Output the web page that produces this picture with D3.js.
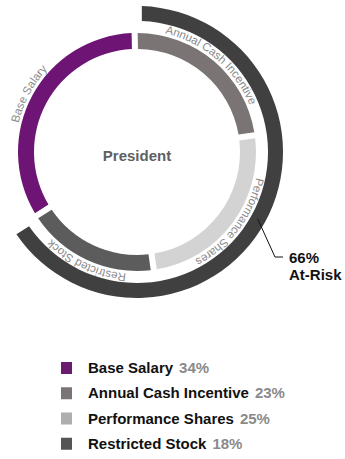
<!DOCTYPE html>
<html>
<head>
<meta charset="utf-8">
<script src="https://cdn.jsdelivr.net/npm/d3@7"></script>
<style>
  body { margin: 0; background: #fff; }
  svg { display: block; font-family: "Liberation Sans", Arial, sans-serif; }
</style>
</head>
<body>
<div id="chart"></div>
<script>
// data
var categories = ["Base Salary", "Annual Cash Incentive", "Performance Shares", "Restricted Stock"];
var values = [34, 23, 25, 18];
var ringColors = ["#6d1475", "#7a7475", "#d3d3d3", "#5c5c5c"];
var legendColors = ["#6b1a72", "#7a7475", "#aeaeae", "#555555"];
var centerLabel = "President";
var atRiskValue = 66;
var atRiskLabel = ["66%", "At-Risk"];

var w = 345, h = 459;
var cx = 137, cy = 152;

var svg = d3.select("#chart").append("svg")
            .attr("width", w)
            .attr("height", h);

var g = svg.append("g").attr("transform", "translate(" + cx + "," + cy + ")");

var total = d3.sum(values);
var start = -2 * Math.PI * values[0] / total; // base salary ends at 12 o'clock

var pie = d3.pie()
            .sort(null)
            .value(function(d) { return d; })
            .startAngle(start)
            .endAngle(start + 2 * Math.PI)
            .padAngle(0.055);

var arcs = pie(values);

var arc = d3.arc()
            .innerRadius(103)
            .outerRadius(119)
            .padRadius(110);

g.selectAll("path.seg")
  .data(arcs)
  .enter()
  .append("path")
  .attr("class", "seg")
  .attr("d", arc)
  .attr("fill", function(d, i) { return ringColors[i]; });

// outer at-risk ring
var riskAngle = 2 * Math.PI * atRiskValue / 100;
var outerArc = d3.arc()
                 .innerRadius(131)
                 .outerRadius(146)
                 .padRadius(138)
                 .padAngle(0.07)
                 .startAngle(0)
                 .endAngle(riskAngle);

g.append("path")
  .attr("d", outerArc())
  .attr("fill", "#404040");

// labels along the ring
var labelR = 122;
arcs.forEach(function(d, i) {
    var p = d3.path();
    p.arc(0, 0, labelR, d.startAngle - Math.PI / 2, d.endAngle - Math.PI / 2, false);
    g.append("path")
      .attr("id", "lab" + i)
      .attr("d", p.toString())
      .attr("fill", "none");
    g.append("text")
      .attr("font-size", "11.5px")
      .attr("fill", "#8a8a8a")
      .append("textPath")
      .attr("href", "#lab" + i)
      .attr("startOffset", "50%")
      .attr("text-anchor", "middle")
      .text(categories[i]);
});

// center label
svg.append("text")
  .attr("x", 137)
  .attr("y", 161)
  .attr("text-anchor", "middle")
  .attr("font-size", "15px")
  .attr("font-weight", "bold")
  .attr("fill", "#606060")
  .text(centerLabel);

// leader line to the at-risk note
var a = 119 * Math.PI / 180;
var x0 = cx + 138 * Math.sin(a), y0 = cy - 138 * Math.cos(a);
svg.append("path")
   .attr("d", "M" + x0 + "," + y0 + "L275,257L283,257")
   .attr("fill", "none")
   .attr("stroke", "#111")
   .attr("stroke-width", 1);

svg.append("text")
   .attr("x", 289)
   .attr("y", 263)
   .attr("font-size", "15px")
   .attr("font-weight", "bold")
   .attr("fill", "#111")
   .selectAll("tspan")
   .data(atRiskLabel)
   .enter()
   .append("tspan")
   .attr("x", 289)
   .attr("dy", function(d, i) { return i ? 17 : 0; })
   .text(function(d) { return d; });

// legend
var y = d3.scaleBand()
          .domain(categories)
          .range([362, 463])
          .paddingInner(0);

var legend = svg.selectAll("g.leg")
                .data(categories)
                .enter()
                .append("g")
                .attr("class", "leg")
                .attr("transform", function(d) { return "translate(61," + y(d) + ")"; });

legend.append("rect")
      .attr("width", 11)
      .attr("height", 12)
      .attr("fill", function(d, i) { return legendColors[i]; });

var lt = legend.append("text")
               .attr("x", 27)
               .attr("y", 11)
               .attr("font-size", "15px")
               .attr("font-weight", "bold")
               .attr("fill", "#111");

lt.append("tspan").text(function(d) { return d; });
lt.append("tspan")
  .attr("dx", 6)
  .attr("fill", "#8a8a8a")
  .text(function(d, i) { return values[i] + "%"; });
</script>
</body>
</html>
